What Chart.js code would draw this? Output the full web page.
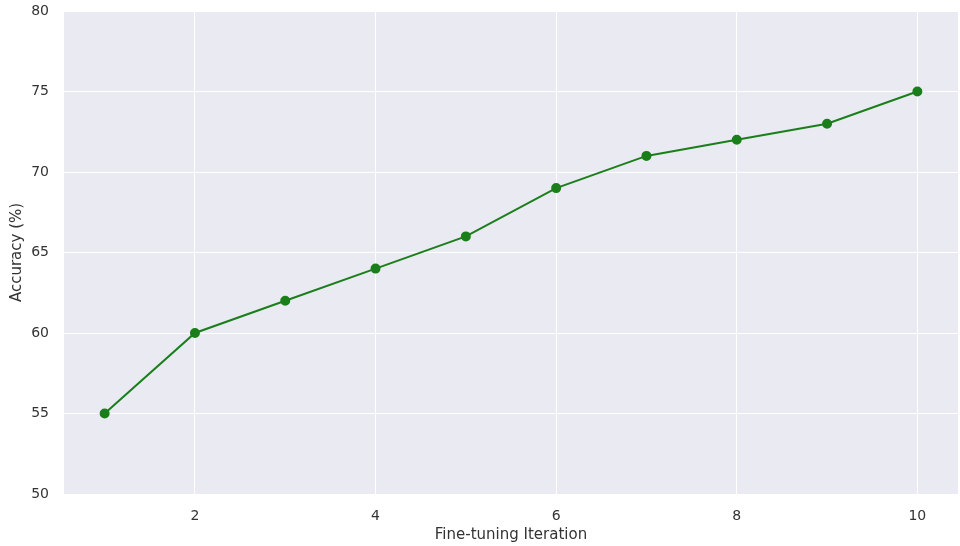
<!DOCTYPE html>
<html>
<head>
<meta charset="utf-8">
<script src="https://cdn.jsdelivr.net/npm/chart.js@4"></script>
<style>
  html, body { margin: 0; padding: 0; background: #fff; overflow: hidden; }
  #wrap { width: 960px; height: 546px; }
</style>
</head>
<body>
<div id="wrap"><canvas id="chart"></canvas></div>
<script>
// data
const iterations = [1, 2, 3, 4, 5, 6, 7, 8, 9, 10];
const accuracy = [55, 60, 62, 64, 66, 69, 71, 72, 73, 75];
const xTicks = [2, 4, 6, 8, 10];
const yTicks = [50, 55, 60, 65, 70, 75, 80];

// seaborn-like grey panel behind the plot
const panelBg = {
  id: 'panelBg',
  beforeDraw(chart) {
    const { ctx, chartArea: a } = chart;
    ctx.save();
    ctx.fillStyle = '#EAEAF2';
    ctx.fillRect(a.left, a.top, a.right - a.left, a.bottom - a.top);
    ctx.restore();
  }
};

Chart.defaults.font.family = '"DejaVu Sans", sans-serif';
Chart.defaults.color = '#333';

new Chart(document.getElementById('chart'), {
  type: 'line',
  data: {
    datasets: [{
      data: iterations.map((x, i) => ({ x, y: accuracy[i] })),
      borderColor: '#1a7f1a',
      backgroundColor: '#1a7f1a',
      borderWidth: 2,
      pointRadius: 4,
      pointHoverRadius: 4,
      tension: 0,
    }],
  },
  options: {
    responsive: true,
    maintainAspectRatio: false,
    animation: false,
    layout: { autoPadding: false, padding: { top: 11, right: 2, left: 0, bottom: 0 } },
    plugins: { legend: { display: false }, tooltip: { enabled: false } },
    scales: {
      x: {
        type: 'linear',
        min: 0.55,
        max: 10.45,
        afterBuildTicks: s => { s.ticks = xTicks.map(v => ({ value: v })); },
        afterFit: s => { s.height = 52; s.paddingLeft = 0; s.paddingRight = 0; },
        grid: { color: '#fff', lineWidth: 1, drawTicks: false },
        border: { display: false },
        ticks: { font: { size: 14 }, padding: 14, color: '#333' },
        title: { display: true, text: 'Fine-tuning Iteration', font: { size: 15 }, padding: { top: 2, bottom: 2 }, color: '#333' },
      },
      y: {
        min: 50,
        max: 80,
        afterBuildTicks: s => { s.ticks = yTicks.map(v => ({ value: v })); },
        afterFit: s => { s.width = 64; s.paddingTop = 0; s.paddingBottom = 0; },
        grid: { color: '#fff', lineWidth: 1, drawTicks: false },
        border: { display: false },
        ticks: { font: { size: 14 }, padding: 15, color: '#333' },
        title: { display: true, text: 'Accuracy (%)', font: { size: 15 }, padding: { top: 8, bottom: 0 }, color: '#333' },
      },
    },
  },
  plugins: [panelBg],
});
</script>
</body>
</html>
